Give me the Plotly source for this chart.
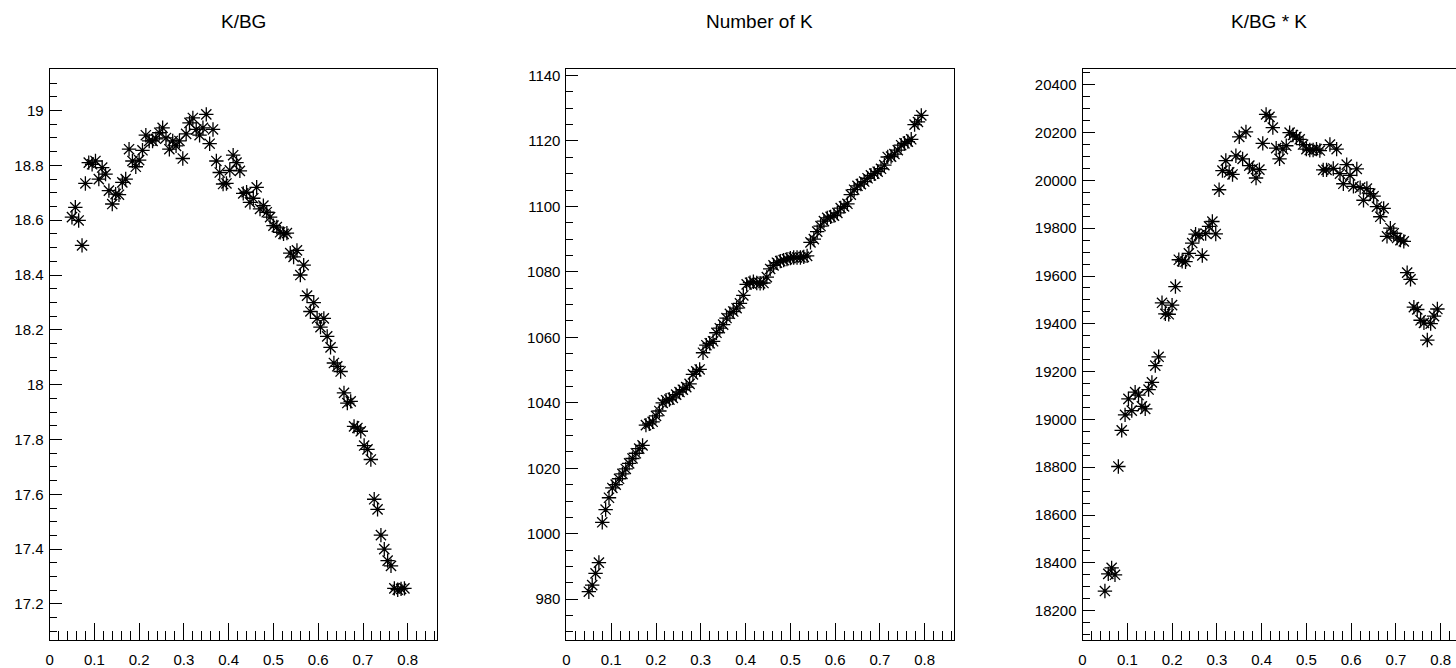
import plotly.graph_objects as go

# ---- data ----
x_cut = [0.05, 0.0575, 0.065, 0.0725, 0.08, 0.0875, 0.095, 0.1025, 0.11, 0.1175,
         0.125, 0.1325, 0.14, 0.1475, 0.155, 0.1625, 0.17, 0.1775, 0.185, 0.1925,
         0.2, 0.2075, 0.215, 0.2225, 0.23, 0.2375, 0.245, 0.2525, 0.26, 0.2675,
         0.275, 0.2825, 0.29, 0.2975, 0.305, 0.3125, 0.32, 0.3275, 0.335, 0.3425,
         0.35, 0.3575, 0.365, 0.3725, 0.38, 0.3875, 0.395, 0.4025, 0.41, 0.4175,
         0.425, 0.4325, 0.44, 0.4475, 0.455, 0.4625, 0.47, 0.4775, 0.485, 0.4925,
         0.5, 0.5075, 0.515, 0.5225, 0.53, 0.5375, 0.545, 0.5525, 0.56, 0.5675,
         0.575, 0.5825, 0.59, 0.5975, 0.605, 0.6125, 0.62, 0.6275, 0.635, 0.6425,
         0.65, 0.6575, 0.665, 0.6725, 0.68, 0.6875, 0.695, 0.7025, 0.71, 0.7175,
         0.725, 0.7325, 0.74, 0.7475, 0.755, 0.7625, 0.77, 0.7775, 0.785, 0.7925]

k_over_bg = [18.611, 18.647, 18.599, 18.508, 18.734, 18.810, 18.804, 18.816, 18.750, 18.792,
             18.768, 18.708, 18.659, 18.695, 18.693, 18.738, 18.750, 18.859, 18.816, 18.795,
             18.819, 18.855, 18.910, 18.889, 18.889, 18.897, 18.919, 18.937, 18.900, 18.859,
             18.889, 18.871, 18.889, 18.825, 18.915, 18.955, 18.973, 18.931, 18.910, 18.937,
             18.986, 18.879, 18.931, 18.816, 18.774, 18.732, 18.734, 18.782, 18.837, 18.810,
             18.780, 18.698, 18.702, 18.665, 18.680, 18.720, 18.641, 18.653, 18.629, 18.611,
             18.580, 18.575, 18.556, 18.550, 18.553, 18.480, 18.466, 18.490, 18.400, 18.436,
             18.325, 18.267, 18.299, 18.242, 18.210, 18.242, 18.176, 18.136, 18.079, 18.067,
             18.048, 17.970, 17.933, 17.939, 17.848, 17.842, 17.830, 17.778, 17.764, 17.727,
             17.582, 17.545, 17.451, 17.400, 17.358, 17.339, 17.257, 17.252, 17.255, 17.257]

n_k = [982.3, 984.3, 987.9, 991.2, 1003.5, 1007.4, 1011.0, 1014.0, 1015.0, 1016.8,
       1018.3, 1019.8, 1021.5, 1023.0, 1024.6, 1026.0, 1027.0, 1033.2, 1033.6, 1034.2,
       1036.0, 1037.5, 1040.0, 1040.8, 1041.0, 1041.5, 1042.5, 1043.3, 1044.0, 1044.8,
       1045.8, 1048.7, 1049.6, 1050.2, 1055.3, 1057.6, 1058.2, 1058.8, 1061.4, 1062.8,
       1063.9, 1065.9, 1067.2, 1067.9, 1068.9, 1070.4, 1072.8, 1076.2, 1076.7, 1077.0,
       1076.6, 1076.5, 1076.6, 1078.4, 1080.9, 1082.0, 1082.8, 1083.3, 1083.6, 1083.9,
       1084.2, 1084.4, 1084.4, 1084.4, 1084.6, 1084.9, 1089.0, 1090.0, 1092.3, 1094.0,
       1095.5, 1096.5, 1096.8, 1097.2, 1098.0, 1099.5, 1100.0, 1100.8, 1103.6, 1105.1,
       1106.3, 1106.8, 1107.6, 1108.6, 1109.5, 1110.0, 1110.6, 1111.5, 1112.6, 1115.1,
       1115.2, 1116.0, 1117.2, 1118.7, 1119.3, 1119.8, 1120.5, 1125.0, 1125.8, 1127.8]

kbg_times_k = [18282, 18354, 18379, 18350, 18803, 18954, 19019, 19086, 19037, 19114,
               19102, 19055, 19044, 19125, 19155, 19225, 19262, 19488, 19442, 19440,
               19478, 19556, 19668, 19662, 19660, 19695, 19738, 19775, 19770, 19686,
               19778, 19808, 19828, 19776, 19961, 20041, 20083, 20034, 20025, 20103,
               20182, 20090, 20203, 20062, 20048, 20010, 20045, 20155, 20276, 20266,
               20221, 20135, 20090, 20131, 20145, 20200, 20190, 20182, 20172, 20150,
               20131, 20127, 20127, 20131, 20125, 20044, 20044, 20150, 20050, 20131,
               20028, 19986, 20066, 20021, 19975, 20048, 19970, 19917, 19966, 19945,
               19934, 19890, 19848, 19883, 19766, 19800, 19779, 19759, 19750, 19745,
               19614, 19586, 19470, 19460, 19415, 19404, 19332, 19401, 19432, 19462]

titles = ["K/BG", "Number of K", "K/BG * K"]

W, H = 1456, 668
FONT = "Liberation Sans, Arial, Helvetica, sans-serif"

fig = go.Figure()
marker = dict(symbol="asterisk-open", size=12, color="black",
              line=dict(color="black", width=1.3))

series = [k_over_bg, n_k, kbg_times_k]
for k, ys in enumerate(series):
    fig.add_trace(go.Scatter(x=x_cut, y=ys, mode="markers", marker=marker,
                             xaxis="x" if k == 0 else f"x{k+1}",
                             yaxis="y" if k == 0 else f"y{k+1}",
                             showlegend=False, hoverinfo="x+y"))

# frame geometry in pixels
frames = [(45.7, 434.3), (564.0, 952.3), (1081.5, 1456.0)]
xpx_per_unit = 449.0
y_top, y_bot = 67.0, 642.0
yranges = [[17.068, 19.153], [967.5, 1142.1], [18076.5, 20467.8]]
ydticks = [0.2, 20, 200]
yminor = [0.05, 5, 50]
yfmt = ["", "d", "d"]

ydom = [1 - y_bot / H, 1 - y_top / H]
for k in range(3):
    x0, x1 = frames[k]
    xr = [0, (x1 - x0) / xpx_per_unit]
    xa = dict(domain=[x0 / W, x1 / W], range=xr, showgrid=False, zeroline=False,
              showline=True, linecolor="black", linewidth=1, mirror=True,
              ticks="inside", ticklen=17, tickwidth=1, tickcolor="black",
              dtick=0.1, tick0=0,
              minor=dict(dtick=0.02, ticks="inside", ticklen=9, tickwidth=1,
                         tickcolor="black", showgrid=False),
              tickfont=dict(family=FONT, size=15, color="black"),
              ticklabelstandoff=6,
              anchor="y" if k == 0 else f"y{k+1}")
    ya = dict(domain=ydom, range=yranges[k], showgrid=False, zeroline=False,
              showline=True, linecolor="black", linewidth=1, mirror=(k < 2),
              ticks="inside", ticklen=12, tickwidth=1, tickcolor="black",
              dtick=ydticks[k], minor=dict(dtick=yminor[k], ticks="inside",
                                           ticklen=7, tickwidth=1,
                                           tickcolor="black", showgrid=False),
              tickformat=yfmt[k],
              tickfont=dict(family=FONT, size=15, color="black"),
              ticklabelstandoff=2,
              anchor="x" if k == 0 else f"x{k+1}")
    sfx = "" if k == 0 else str(k + 1)
    fig.layout["xaxis" + sfx] = xa
    fig.layout["yaxis" + sfx] = ya

title_x = [240, 758, 1268]
for k, t in enumerate(titles):
    fig.add_annotation(text=t, x=title_x[k] / W, y=1 - 20 / H, xref="paper",
                       yref="paper", showarrow=False, xanchor="center",
                       yanchor="middle",
                       font=dict(family=FONT, size=19, color="black"))

fig.update_layout(width=W, height=H, margin=dict(l=0, r=0, t=0, b=0),
                  paper_bgcolor="white", plot_bgcolor="white")

fig.write_html("out.html", config=dict(displayModeBar=False),
               post_script="document.body.style.margin='0';"
                           "document.body.style.overflow='hidden';")
